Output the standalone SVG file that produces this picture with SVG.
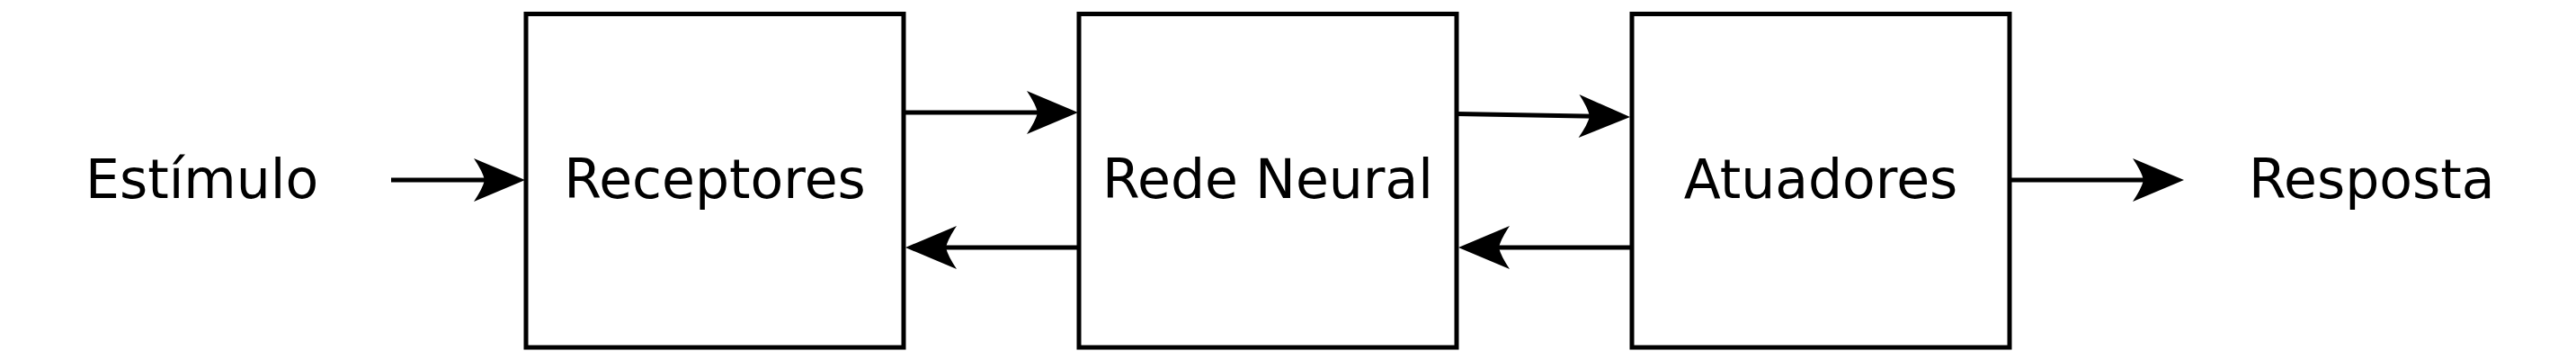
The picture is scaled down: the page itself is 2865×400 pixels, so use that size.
<svg xmlns="http://www.w3.org/2000/svg" width="2865" height="400" viewBox="0 0 2865 400">
<style>
.box{fill:#fff;stroke:#000;stroke-width:5}
.lbl{font-family:"DejaVu Sans",sans-serif;font-size:60px;fill:#000}
.mid{text-anchor:middle}
.conn line{stroke:#000;stroke-width:5;fill:none}
.conn use{fill:#000}
</style>
<defs>
<path id="ah" d="M0,0 L-57,-24 Q-47,-9 -45,0 Q-47,9 -57,24 Z"/>
</defs>
<rect width="2865" height="400" fill="#fff"/>
<g id="estimulo"><text class="lbl" x="95" y="220">Estímulo</text></g>
<g id="receptores"><rect class="box" x="585" y="15.5" width="420" height="370.5"/><text class="lbl mid" x="795" y="220">Receptores</text></g>
<g id="rede-neural"><rect class="box" x="1200" y="15.5" width="420" height="370.5"/><text class="lbl mid" x="1410" y="220">Rede Neural</text></g>
<g id="atuadores"><rect class="box" x="1815" y="15.5" width="420" height="370.5"/><text class="lbl mid" x="2025" y="220">Atuadores</text></g>
<g id="resposta"><text class="lbl" x="2501" y="220">Resposta</text></g>
<g id="connectors" class="conn">
<line x1="435" y1="200" x2="545" y2="200"/>
<use href="#ah" transform="translate(584,200)"/>
<line x1="1005" y1="125" x2="1160" y2="125"/>
<use href="#ah" transform="translate(1199,125)"/>
<line x1="1200" y1="275" x2="1045" y2="275"/>
<use href="#ah" transform="translate(1007,275) rotate(180)"/>
<line x1="1620" y1="126.5" x2="1775" y2="129.2"/>
<use href="#ah" transform="translate(1813,130) rotate(1)"/>
<line x1="1815" y1="275" x2="1660" y2="275"/>
<use href="#ah" transform="translate(1622,275) rotate(180)"/>
<line x1="2235" y1="200" x2="2390" y2="200"/>
<use href="#ah" transform="translate(2429,200)"/>
</g>
</svg>
